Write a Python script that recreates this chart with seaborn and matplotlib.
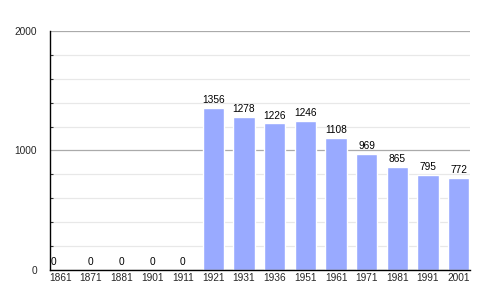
import matplotlib
matplotlib.use("Agg")
import matplotlib.pyplot as plt
import seaborn as sns
import pandas as pd
from matplotlib.ticker import MultipleLocator

years = ["1861", "1871", "1881", "1901", "1911", "1921", "1931", "1936",
         "1951", "1961", "1971", "1981", "1991", "2001"]
population = [0, 0, 0, 0, 0, 1356, 1278, 1226, 1246, 1108, 969, 865, 795, 772]

df = pd.DataFrame({"year": years, "pop": population})

sns.set_style("white")
plt.rcParams['font.family'] = ['Liberation Sans', 'DejaVu Sans']

fig = plt.figure(figsize=(5, 3), dpi=100)
ax = fig.add_axes([0.1, 0.1, 0.84, 0.7967])

sns.barplot(data=df, x="year", y="pop", color="#99aaff", saturation=1,
            width=0.69, ax=ax, zorder=3)

ax.set_xlim(-0.33, 13.37)
ax.set_ylim(0, 2000)
ax.yaxis.set_major_locator(MultipleLocator(1000))
ax.yaxis.set_minor_locator(MultipleLocator(200))
ax.grid(which="major", axis="y", color="#aaaaaa", linewidth=0.9, zorder=0)
ax.grid(which="minor", axis="y", color="#e8e8e8", linewidth=0.9, zorder=0)
ax.set_axisbelow(True)

for s in ["top", "right"]:
    ax.spines[s].set_visible(False)
for s in ["left", "bottom"]:
    ax.spines[s].set_color("black")
    ax.spines[s].set_linewidth(1.0)
    ax.spines[s].set_zorder(4)

ax.tick_params(axis="y", which="major", direction="out", length=4, width=0.8,
               color="black", labelsize=7.3, pad=5.5)
ax.tick_params(axis="y", which="minor", direction="in", length=2, width=0.8,
               color="#333333", left=True)
ax.tick_params(axis="x", length=0, labelsize=7.3, pad=2)
ax.set_xlabel("")
ax.set_ylabel("")

for i, (p, v) in enumerate(zip(ax.patches, population)):
    cx = p.get_x() + p.get_width() / 2
    if i == 0:
        cx -= 0.22
    ax.annotate(str(v), (cx, v), xytext=(0, 2), textcoords="offset points",
                ha="center", va="bottom", fontsize=7.3, color="black",
                annotation_clip=False, zorder=5)

fig.savefig("out.png", dpi=100)
